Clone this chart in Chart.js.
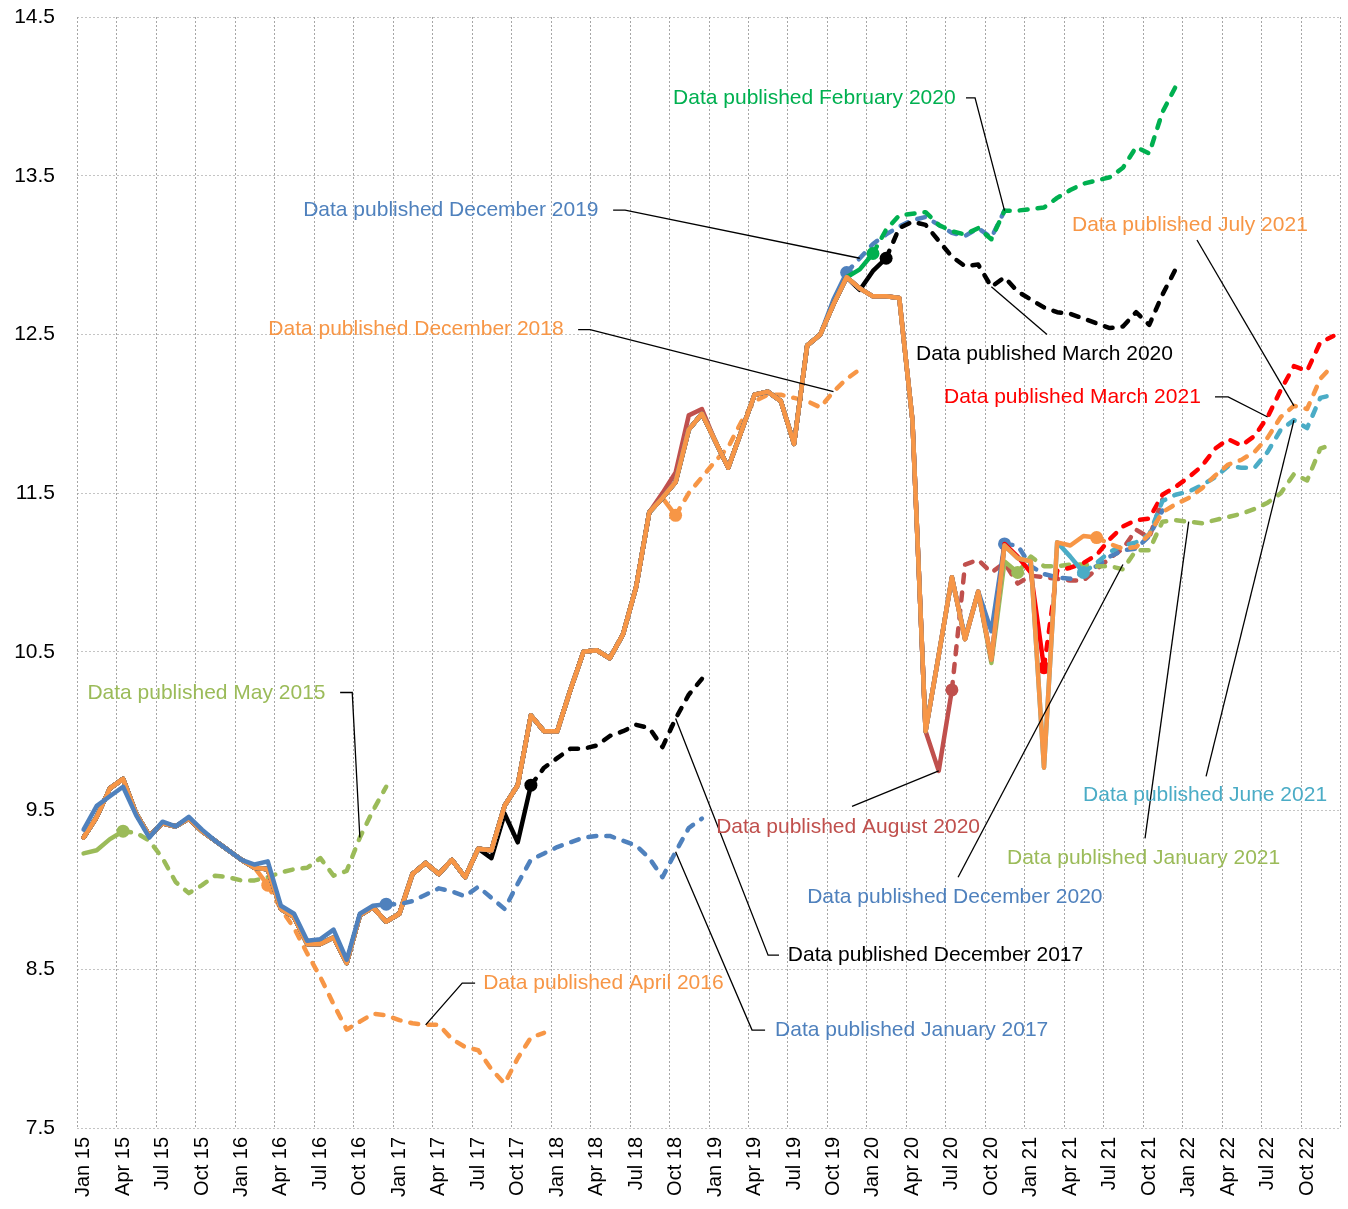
<!DOCTYPE html>
<html><head><meta charset="utf-8">
<script src="https://cdn.jsdelivr.net/npm/chart.js@4.4.1/dist/chart.umd.min.js"></script>
<style>html,body{margin:0;padding:0;background:#fff}#wrap{width:1348px;height:1209px;position:relative}</style>
</head><body><div id="wrap"><canvas id="c"></canvas></div>
<script>
// ---- categories ----
const monthNames = ['Jan','Feb','Mar','Apr','May','Jun','Jul','Aug','Sep','Oct','Nov','Dec'];
const yearLabels = ['15','16','17','18','19','20','21','22'];
const categories = [];
for (const y of yearLabels) for (const m of monthNames) categories.push(m + ' ' + y);

// y-axis tick values
const yTicks = [7.5, 8.5, 9.5, 10.5, 11.5, 12.5, 13.5, 14.5];

// ---- latest published history (Jan 15 - Jun 21) ----
const hist = [9.33,9.46,9.64,9.70,9.48,9.34,9.42,9.40,9.45,9.37,9.31,9.25,
  9.19,9.14,9.13,8.88,8.83,8.66,8.66,8.70,8.54,8.84,8.89,8.80,
  8.85,9.10,9.17,9.10,9.19,9.08,9.26,9.25,9.53,9.66,10.10,10.00,
  10.00,10.26,10.50,10.51,10.46,10.61,10.91,11.38,11.47,11.57,11.90,12.00,
  11.83,11.66,11.89,12.12,12.14,12.08,11.81,12.43,12.50,12.69,12.86,12.79,
  12.74,12.74,12.73,11.96,10.00,10.48,10.97,10.58,10.88,10.45,11.17,11.09,
  11.07,9.77,11.19,11.17,11.23,11.22];

// ---- each vintage: own values from its start month; earlier months follow hist ----
const may2015 = [9.23,9.25,9.32,9.37,9.36,9.31,9.20,9.05,8.98,9.03,9.09,9.08,9.06,9.06,9.08,9.11,9.13,9.14,9.20,9.09,9.12,9.33,9.50,9.65];
const apr2016 = [9.03,8.88,8.76,8.60,8.45,8.28,8.12,8.17,8.22,8.21,8.18,8.16,8.15,8.15,8.06,8.01,7.99,7.87,7.78,7.94,8.07,8.10];
const jan2017 = [9.38,9.53,9.59,9.65,9.47,9.33,9.43,9.40,9.46,9.38,9.31,9.25,9.19,9.16,9.18,8.90,8.85,8.68,8.69,8.75,8.56,8.85,8.90,8.91,
  8.91,8.93,8.97,9.01,8.99,8.96,9.02,8.95,8.88,9.04,9.19,9.23,9.27,9.30,9.33,9.34,9.34,9.31,9.28,9.20,9.08,9.24,9.39,9.45];
const dec2017 = [9.26,9.20,9.48,9.30,9.66,9.77,9.83,9.89,9.89,9.91,9.97,10.00,10.04,10.02,9.90,10.08,10.23,10.33];
const dec2018 = [11.36,11.50,11.60,11.70,11.79,11.95,12.08,12.12,12.12,12.10,12.08,12.04,12.14,12.22,12.28];
const dec2019 = [12.72,12.89,12.98,13.07,13.13,13.18,13.22,13.24,13.19,13.14,13.12,13.17,13.11,13.28];
const feb2020 = [12.86,12.91,13.01,13.16,13.25,13.26,13.27,13.19,13.15,13.13,13.17,13.10,13.28,13.28,13.29,13.30,13.36,13.41,13.45,13.47,13.49,13.55,13.68,13.64,13.90,14.06];
const mar2020 = [12.86,12.78,12.90,12.98,13.17,13.21,13.19,13.09,12.99,12.93,12.94,12.80,12.86,12.77,12.72,12.67,12.64,12.63,12.60,12.57,12.54,12.55,12.64,12.56,12.75,12.91];
const aug2020 = [11.50,11.63,11.99,12.03,11.83,11.66,11.89,12.12,12.14,12.08,11.81,12.43,12.50,12.69,12.86,12.79,12.74,12.74,12.73,11.96,
  10.00,9.75,10.26,11.05,11.08,11.00,11.06,10.93,10.98,10.97,10.96,10.95,10.95,11.02,11.09,11.15,11.27,11.22,11.46];
const dec2020 = [10.97,10.59,10.88,10.63,11.18,11.17,11.04,10.99,10.97,10.96,11.00,11.04,11.10,11.14,11.15,11.23,11.39];
const jan2021 = [10.43,11.07,11.00,11.10,11.04,11.04,11.05,11.05,11.04,11.04,11.02,11.14,11.14,11.32,11.33,11.32,11.31,11.33,11.35,11.37,11.40,11.44,11.50,11.62,11.58,11.78,11.81];
const mar2021 = [11.18,11.10,11.00,10.40,11.01,11.03,11.06,11.11,11.21,11.29,11.33,11.34,11.49,11.54,11.60,11.67,11.78,11.84,11.80,11.86,11.98,12.15,12.30,12.27,12.45,12.49];
const jun2021 = [11.19,11.10,11.00,11.06,11.13,11.17,11.19,11.24,11.45,11.49,11.51,11.55,11.60,11.67,11.66,11.66,11.76,11.90,11.96,11.91,12.10,12.12];
const jul2021 = [11.18,11.15,11.16,11.24,11.38,11.43,11.47,11.53,11.61,11.68,11.71,11.76,11.85,11.98,12.05,12.03,12.22,12.31];

// vintage list (first = drawn on top). from = first month index of own values, last = last actual month
const vintages = [
  {label:'Data published January 2017',  values:jan2017, from:0,  last:23, color:'#4F81BD'},
  {label:'Data published July 2021',     values:jul2021, from:78, last:77, color:'#F79646'},
  {label:'Data published June 2021',     values:jun2021, from:74, last:76, color:'#4BACC6'},
  {label:'Data published March 2021',    values:mar2021, from:70, last:73, color:'#FF0000'},
  {label:'Data published January 2021',  values:jan2021, from:69, last:71, color:'#9BBB59'},
  {label:'Data published December 2020', values:dec2020, from:66, last:70, color:'#4F81BD'},
  {label:'Data published August 2020',   values:aug2020, from:44, last:66, color:'#C0504D'},
  {label:'Data published March 2020',    values:mar2020, from:58, last:61, color:'#000000'},
  {label:'Data published February 2020', values:feb2020, from:58, last:60, color:'#00B050'},
  {label:'Data published December 2019', values:dec2019, from:57, last:58, color:'#4F81BD'},
  {label:'Data published December 2018', values:dec2018, from:45, last:45, color:'#F79646'},
  {label:'Data published December 2017', values:dec2017, from:30, last:34, color:'#000000'},
  {label:'Data published April 2016',    values:apr2016, from:14, last:14, color:'#F79646'},
  {label:'Data published May 2015',      values:may2015, from:0,  last:3,  color:'#9BBB59'}
];

// annotation layout (in chart coordinates: [month index, value])
const notes = [
  {text:'Data published February 2020', color:'#00B050', at:[44.81,13.99], path:[[67.07,13.99],[67.76,13.99],[70,13.28]]},
  {text:'Data published December 2019', color:'#4F81BD', at:[16.69,13.283], path:[[40.25,13.283],[41.16,13.283],[59,12.98]]},
  {text:'Data published July 2021', color:'#F79646', at:[75.13,13.19], path:[[84.63,13.095],[92,12.05]]},
  {text:'Data published December 2018', color:'#F79646', at:[14.04,12.53], path:[[37.59,12.53],[38.5,12.53],[57,12.14]]},
  {text:'Data published March 2020', color:'#000000', at:[63.28,12.377], path:[[73.23,12.50],[69,12.80]]},
  {text:'Data published March 2021', color:'#FF0000', at:[65.4,12.106], path:[[86.0,12.106],[87.0,12.106],[90,11.98]]},
  {text:'Data published May 2015', color:'#9BBB59', at:[0.29,10.238], path:[[19.5,10.244],[20.42,10.244],[21,9.33]]},
  {text:'Data published August 2020', color:'#C0504D', at:[48.08,9.394], path:[[58.41,9.526],[65,9.75]]},
  {text:'Data published June 2021', color:'#4BACC6', at:[75.97,9.596], path:[[85.32,9.715],[92,11.96]]},
  {text:'Data published January 2021', color:'#9BBB59', at:[70.19,9.199], path:[[80.68,9.325],[84,11.32]]},
  {text:'Data published December 2020', color:'#4F81BD', at:[55.0,8.954], path:[[66.47,9.08],[79,11.05]]},
  {text:'Data published December 2017', color:'#000000', at:[53.53,8.589], path:[[52.86,8.589],[52.03,8.589],[45,10.08]]},
  {text:'Data published January 2017', color:'#4F81BD', at:[52.56,8.117], path:[[51.8,8.117],[50.81,8.117],[45,9.24]]},
  {text:'Data published April 2016', color:'#F79646', at:[30.37,8.413], path:[[29.76,8.413],[28.78,8.413],[26,8.15]]}
];

const FONT = '"Liberation Sans", Arial, sans-serif';
const DASH = [8, 10];

function buildData(v) {
  const out = new Array(categories.length).fill(null);
  const end = v.from + v.values.length;
  for (let i = 0; i < end; i++) out[i] = i < v.from ? hist[i] : v.values[i - v.from];
  return out;
}

const datasets = vintages.map(v => ({
  label: v.label,
  data: buildData(v),
  borderColor: v.color,
  backgroundColor: v.color,
  borderWidth: 4.5,
  borderCapStyle: 'round',
  borderJoinStyle: 'round',
  tension: 0,
  spanGaps: false,
  fill: false,
  pointRadius: ctx => ctx.dataIndex === v.last ? 6.5 : 0,
  pointHoverRadius: ctx => ctx.dataIndex === v.last ? 6.5 : 0,
  pointBorderWidth: 0,
  pointBackgroundColor: v.color,
  segment: { borderDash: ctx => ctx.p0DataIndex >= v.last ? DASH : undefined }
}));

// vertical dotted grid every 3 months (at the left edge of each labelled month)
const vGridPlugin = {
  id: 'vgrid',
  beforeDatasetsDraw(chart) {
    const {ctx, chartArea, scales: {x}} = chart;
    ctx.save();
    ctx.strokeStyle = '#a6a6a6';
    ctx.lineWidth = 1;
    ctx.setLineDash([2, 2]);
    for (let k = 0; k <= categories.length; k += 3) {
      const px = Math.round(x.getPixelForValue(k - 0.5)) + 0.5;
      ctx.beginPath();
      ctx.moveTo(px, chartArea.top);
      ctx.lineTo(px, chartArea.bottom);
      ctx.stroke();
    }
    ctx.restore();
  }
};

const notesPlugin = {
  id: 'notes',
  afterDatasetsDraw(chart) {
    const {ctx, scales: {x, y}} = chart;
    ctx.save();
    ctx.lineWidth = 1.3;
    ctx.strokeStyle = '#000';
    for (const n of notes) {
      ctx.beginPath();
      n.path.forEach((p, k) => {
        const px = x.getPixelForValue(p[0]), py = y.getPixelForValue(p[1]);
        if (k === 0) ctx.moveTo(px, py); else ctx.lineTo(px, py);
      });
      ctx.stroke();
    }
    ctx.font = '21px ' + FONT;
    ctx.textBaseline = 'middle';
    ctx.textAlign = 'left';
    for (const n of notes) {
      ctx.fillStyle = n.color;
      ctx.fillText(n.text, x.getPixelForValue(n.at[0]), y.getPixelForValue(n.at[1]));
    }
    ctx.restore();
  }
};

new Chart(document.getElementById('c'), {
  type: 'line',
  data: { labels: categories, datasets },
  options: {
    responsive: true,
    maintainAspectRatio: false,
    animation: false,
    events: [],
    layout: { padding: { left: 0, right: 8, top: 17, bottom: 0 } },
    plugins: { legend: { display: false }, tooltip: { enabled: false } },
    scales: {
      x: {
        type: 'category',
        offset: true,
        grid: { display: false, drawTicks: false },
        border: { display: false },
        ticks: {
          autoSkip: false,
          maxRotation: 90,
          minRotation: 90,
          padding: 9,
          color: '#000',
          font: { family: FONT, size: 20 },
          callback: function(val, idx) { return idx % 3 === 0 ? this.getLabelForValue(val) : ''; }
        },
        afterFit: axis => { axis.height = 81; axis.paddingLeft = 0; axis.paddingRight = 0; }
      },
      y: {
        min: yTicks[0],
        max: yTicks[yTicks.length - 1],
        afterBuildTicks: axis => { axis.ticks = yTicks.map(v => ({value: v})); },
        grid: { drawTicks: false, lineWidth: 1, color: '#c4c4c4' },
        border: { display: false, dash: [2, 2] },
        ticks: {
          padding: 22,
          color: '#000',
          font: { family: FONT, size: 21 },
          callback: v => v.toFixed(1)
        },
        afterFit: axis => { axis.width = 77; axis.paddingTop = 0; axis.paddingBottom = 0; }
      }
    }
  },
  plugins: [vGridPlugin, notesPlugin]
});
</script>
</body></html>
